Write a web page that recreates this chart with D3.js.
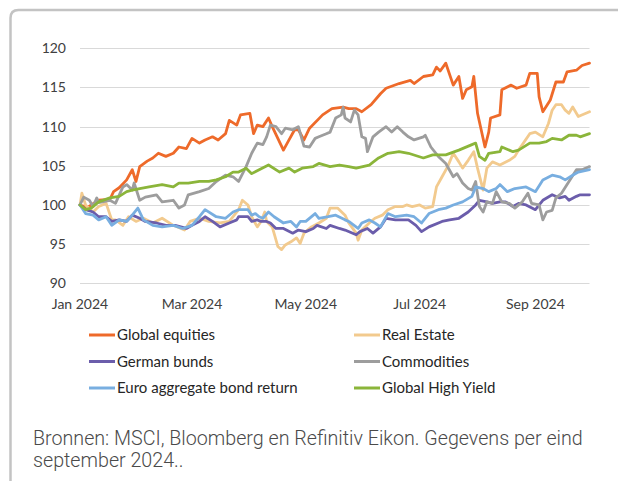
<!DOCTYPE html>
<html>
<head>
<meta charset="utf-8">
<script src="https://cdn.jsdelivr.net/npm/d3@7"></script>
<style>
  body { margin: 0; background: #fff; }
  svg { display: block; font-family: Lato, "Open Sans", sans-serif; }
  .grid line { stroke: #d9d9d9; stroke-width: 1; }
  .tick-label { fill: #404040; font-size: 14px; }
  .legend-label { fill: #262626; font-size: 15px; }
  .source { fill: #4a4a4a; font-family: Roboto, sans-serif; font-weight: 300; font-size: 20px; }
</style>
</head>
<body>
<svg id="chart" width="618" height="481"></svg>
<script>
/* ---------- data ---------- */
const dateRange = ["2024-01-01", "2024-09-30"];
const xTickDates = ["2024-01-01", "2024-03-01", "2024-05-01", "2024-07-01", "2024-09-01"];
const yTicks = [90, 95, 100, 105, 110, 115, 120];

const globalEquities = [
  ["2024-01-01",100.0],["2024-01-05",99.7],["2024-01-11",100.6],["2024-01-17",100.7],["2024-01-19",101.7],
  ["2024-01-22",102.2],["2024-01-26",103.2],["2024-01-29",104.5],["2024-01-31",103.0],["2024-02-02",104.9],
  ["2024-02-06",105.6],["2024-02-09",106.0],["2024-02-12",106.6],["2024-02-16",106.2],["2024-02-20",106.6],
  ["2024-02-23",107.4],["2024-02-27",107.2],["2024-03-01",108.5],["2024-03-05",107.9],["2024-03-08",108.3],
  ["2024-03-12",108.7],["2024-03-15",108.3],["2024-03-19",109.1],["2024-03-21",110.8],["2024-03-25",110.2],
  ["2024-03-27",111.5],["2024-04-01",111.7],["2024-04-03",109.1],["2024-04-05",110.2],["2024-04-08",110.0],
  ["2024-04-11",111.1],["2024-04-13",110.0],["2024-04-19",107.0],["2024-04-22",108.3],["2024-04-25",109.6],
  ["2024-04-27",109.6],["2024-04-30",108.3],["2024-05-03",109.8],["2024-05-10",111.5],["2024-05-15",112.3],
  ["2024-05-21",112.5],["2024-05-24",112.3],["2024-05-28",112.3],["2024-05-31",111.9],["2024-06-05",112.8],
  ["2024-06-10",114.2],["2024-06-13",114.9],["2024-06-20",115.5],["2024-06-26",115.9],["2024-06-28",115.5],
  ["2024-07-03",116.4],["2024-07-08",116.6],["2024-07-10",117.6],["2024-07-12",117.1],["2024-07-15",118.1],
  ["2024-07-19",115.3],["2024-07-22",116.4],["2024-07-24",113.6],["2024-07-26",114.7],["2024-07-29",115.1],
  ["2024-07-30",116.4],["2024-08-01",111.7],["2024-08-05",107.4],["2024-08-07",109.3],["2024-08-08",111.1],
  ["2024-08-13",111.5],["2024-08-14",114.7],["2024-08-19",115.3],["2024-08-22",114.9],["2024-08-27",115.3],
  ["2024-08-29",116.8],["2024-09-02",116.8],["2024-09-03",113.8],["2024-09-05",111.9],["2024-09-09",113.4],
  ["2024-09-12",115.7],["2024-09-16",115.7],["2024-09-18",117.0],["2024-09-23",117.2],["2024-09-26",117.8],
  ["2024-09-30",118.1]
];

const realEstate = [
  ["2024-01-01",100.0],["2024-01-02",101.5],["2024-01-04",100.0],["2024-01-08",99.1],["2024-01-11",99.8],
  ["2024-01-15",100.2],["2024-01-18",98.1],["2024-01-20",98.1],["2024-01-24",97.4],["2024-01-27",98.5],
  ["2024-01-31",97.9],["2024-02-04",98.3],["2024-02-09",97.7],["2024-02-14",98.3],["2024-02-20",97.4],
  ["2024-02-26",96.8],["2024-02-29",97.9],["2024-03-05",98.3],["2024-03-10",97.9],["2024-03-16",97.7],
  ["2024-03-21",97.9],["2024-03-26",99.4],["2024-03-28",100.6],["2024-03-31",100.0],["2024-04-02",98.5],
  ["2024-04-05",97.2],["2024-04-07",97.9],["2024-04-09",99.1],["2024-04-10",97.9],["2024-04-13",97.2],
  ["2024-04-16",94.7],["2024-04-18",94.3],["2024-04-20",94.9],["2024-04-23",95.3],["2024-04-26",95.8],
  ["2024-04-28",95.1],["2024-04-30",96.4],["2024-05-04",97.2],["2024-05-08",97.7],["2024-05-12",98.3],
  ["2024-05-14",99.6],["2024-05-18",99.6],["2024-05-22",98.7],["2024-05-24",97.7],["2024-05-28",96.4],
  ["2024-05-29",95.5],["2024-05-31",96.8],["2024-06-04",97.7],["2024-06-07",98.3],["2024-06-11",98.7],
  ["2024-06-14",99.4],["2024-06-18",99.8],["2024-06-22",99.8],["2024-06-24",100.0],["2024-06-27",99.8],
  ["2024-07-01",100.0],["2024-07-04",99.6],["2024-07-08",99.8],["2024-07-10",102.3],["2024-07-13",103.6],
  ["2024-07-16",104.9],["2024-07-19",106.6],["2024-07-22",105.5],["2024-07-24",104.7],["2024-07-27",105.7],
  ["2024-07-30",106.8],["2024-08-01",104.7],["2024-08-04",101.9],["2024-08-06",104.7],["2024-08-09",105.5],
  ["2024-08-13",105.1],["2024-08-18",105.7],["2024-08-21",106.2],["2024-08-23",107.0],["2024-08-29",109.1],
  ["2024-09-01",109.3],["2024-09-05",108.7],["2024-09-08",110.4],["2024-09-10",112.1],["2024-09-12",112.8],
  ["2024-09-15",112.8],["2024-09-17",112.1],["2024-09-19",111.7],["2024-09-21",112.5],["2024-09-24",111.3],
  ["2024-09-30",111.9]
];

const germanBunds = [
  ["2024-01-01",100.0],["2024-01-04",99.4],["2024-01-08",99.1],["2024-01-11",98.5],["2024-01-15",98.5],
  ["2024-01-18",97.9],["2024-01-22",98.1],["2024-01-26",97.9],["2024-01-29",98.7],["2024-02-02",98.3],
  ["2024-02-05",97.9],["2024-02-11",97.7],["2024-02-16",97.4],["2024-02-21",97.4],["2024-02-27",97.0],
  ["2024-03-01",97.4],["2024-03-05",97.9],["2024-03-08",98.5],["2024-03-12",97.9],["2024-03-16",97.2],
  ["2024-03-21",97.7],["2024-03-25",98.1],["2024-03-26",98.5],["2024-03-31",98.5],["2024-04-02",97.9],
  ["2024-04-05",98.1],["2024-04-07",97.9],["2024-04-10",97.9],["2024-04-12",97.7],["2024-04-15",97.0],
  ["2024-04-19",97.0],["2024-04-24",96.4],["2024-04-27",96.8],["2024-05-01",96.6],["2024-05-05",97.0],
  ["2024-05-07",97.4],["2024-05-12",97.0],["2024-05-14",97.4],["2024-05-19",97.0],["2024-05-22",96.8],
  ["2024-05-28",96.2],["2024-05-30",96.6],["2024-06-03",97.0],["2024-06-06",96.4],["2024-06-10",97.2],
  ["2024-06-13",98.3],["2024-06-18",98.1],["2024-06-25",98.1],["2024-06-29",97.4],["2024-07-02",96.6],
  ["2024-07-06",97.2],["2024-07-13",97.9],["2024-07-17",98.1],["2024-07-22",98.3],["2024-07-27",99.1],
  ["2024-07-31",100.0],["2024-08-02",100.6],["2024-08-06",100.4],["2024-08-09",100.2],["2024-08-13",100.4],
  ["2024-08-16",100.4],["2024-08-20",99.8],["2024-08-23",100.2],["2024-08-27",100.0],["2024-09-01",99.4],
  ["2024-09-05",100.6],["2024-09-10",101.3],["2024-09-14",100.9],["2024-09-17",101.1],["2024-09-19",100.6],
  ["2024-09-23",101.1],["2024-09-25",101.3],["2024-09-30",101.3]
];

const commodities = [
  ["2024-01-01",100.0],["2024-01-03",101.0],["2024-01-06",100.6],["2024-01-08",99.8],["2024-01-10",100.9],
  ["2024-01-11",100.3],["2024-01-17",100.6],["2024-01-20",100.2],["2024-01-24",102.3],["2024-01-26",102.6],
  ["2024-01-29",101.9],["2024-01-30",102.8],["2024-02-02",100.6],["2024-02-05",101.0],["2024-02-11",101.3],
  ["2024-02-14",100.4],["2024-02-20",100.6],["2024-02-23",99.6],["2024-02-26",100.0],["2024-02-28",101.3],
  ["2024-03-05",101.7],["2024-03-10",102.1],["2024-03-14",103.0],["2024-03-19",103.8],["2024-03-23",103.6],
  ["2024-03-26",103.0],["2024-03-30",104.9],["2024-04-02",106.6],["2024-04-05",107.9],["2024-04-08",107.7],
  ["2024-04-10",108.7],["2024-04-12",110.2],["2024-04-15",110.0],["2024-04-18",109.1],["2024-04-20",109.8],
  ["2024-04-24",109.6],["2024-04-27",110.0],["2024-04-30",107.5],["2024-05-03",107.4],["2024-05-06",108.5],
  ["2024-05-08",108.7],["2024-05-12",109.1],["2024-05-14",109.3],["2024-05-17",111.1],["2024-05-20",111.5],
  ["2024-05-21",112.5],["2024-05-22",111.1],["2024-05-25",110.6],["2024-05-27",112.1],["2024-05-29",111.5],
  ["2024-05-31",108.7],["2024-06-02",108.5],["2024-06-03",106.8],["2024-06-06",108.7],["2024-06-09",109.3],
  ["2024-06-13",110.0],["2024-06-16",109.3],["2024-06-19",110.0],["2024-06-22",109.3],["2024-06-25",108.7],
  ["2024-06-28",108.3],["2024-07-03",108.7],["2024-07-04",108.9],["2024-07-07",107.4],["2024-07-11",106.2],
  ["2024-07-15",105.3],["2024-07-19",103.6],["2024-07-21",104.0],["2024-07-24",102.8],["2024-07-27",102.1],
  ["2024-07-29",101.9],["2024-07-31",103.0],["2024-08-02",99.8],["2024-08-04",99.1],["2024-08-06",100.4],
  ["2024-08-09",100.2],["2024-08-11",101.7],["2024-08-14",100.4],["2024-08-18",100.2],["2024-08-21",99.6],
  ["2024-08-25",100.4],["2024-08-28",101.5],["2024-08-30",100.2],["2024-09-03",100.0],["2024-09-05",98.1],
  ["2024-09-07",99.1],["2024-09-10",99.3],["2024-09-12",100.9],["2024-09-15",101.5],["2024-09-19",103.0],
  ["2024-09-23",104.5],["2024-09-26",104.5],["2024-09-30",104.9]
];

const euroAggregate = [
  ["2024-01-01",100.0],["2024-01-04",98.9],["2024-01-08",98.7],["2024-01-11",98.1],["2024-01-15",98.5],
  ["2024-01-18",97.4],["2024-01-22",98.1],["2024-01-26",97.9],["2024-01-29",98.7],["2024-02-01",99.6],
  ["2024-02-04",98.1],["2024-02-09",97.4],["2024-02-14",97.2],["2024-02-20",97.4],["2024-02-25",97.0],
  ["2024-03-01",97.4],["2024-03-05",98.5],["2024-03-08",99.4],["2024-03-14",98.5],["2024-03-19",98.3],
  ["2024-03-23",99.1],["2024-03-26",99.4],["2024-03-31",99.4],["2024-04-02",98.7],["2024-04-04",98.9],
  ["2024-04-06",98.5],["2024-04-08",98.3],["2024-04-11",99.1],["2024-04-14",98.5],["2024-04-19",97.7],
  ["2024-04-23",97.9],["2024-04-26",97.2],["2024-04-28",97.9],["2024-05-01",97.9],["2024-05-06",98.9],
  ["2024-05-08",98.3],["2024-05-13",98.5],["2024-05-17",98.7],["2024-05-22",98.1],["2024-05-24",97.9],
  ["2024-05-29",97.0],["2024-05-31",97.7],["2024-06-04",98.1],["2024-06-07",97.7],["2024-06-10",97.2],
  ["2024-06-14",98.9],["2024-06-18",98.5],["2024-06-24",98.7],["2024-06-28",98.5],["2024-07-02",97.7],
  ["2024-07-06",98.9],["2024-07-11",99.4],["2024-07-15",99.6],["2024-07-19",100.0],["2024-07-24",100.4],
  ["2024-07-29",101.1],["2024-07-31",102.3],["2024-08-04",102.1],["2024-08-07",101.7],["2024-08-11",102.1],
  ["2024-08-13",102.6],["2024-08-17",101.7],["2024-08-21",102.1],["2024-08-27",102.3],["2024-09-01",101.7],
  ["2024-09-05",103.2],["2024-09-10",103.8],["2024-09-14",103.6],["2024-09-17",103.2],["2024-09-21",103.8],
  ["2024-09-24",104.2],["2024-09-30",104.5]
];

const globalHighYield = [
  ["2024-01-01",100.0],["2024-01-04",99.4],["2024-01-07",99.6],["2024-01-11",100.4],["2024-01-17",100.9],
  ["2024-01-22",101.1],["2024-01-26",101.7],["2024-01-29",101.9],["2024-02-02",102.1],["2024-02-07",102.3],
  ["2024-02-14",102.6],["2024-02-20",102.3],["2024-02-23",102.8],["2024-02-28",102.8],["2024-03-05",103.0],
  ["2024-03-10",103.0],["2024-03-14",103.2],["2024-03-19",103.6],["2024-03-23",104.2],["2024-03-26",104.2],
  ["2024-03-30",104.7],["2024-04-02",104.0],["2024-04-06",104.5],["2024-04-11",105.1],["2024-04-17",104.2],
  ["2024-04-22",104.7],["2024-04-25",104.2],["2024-04-29",104.7],["2024-05-05",104.9],["2024-05-08",105.3],
  ["2024-05-14",104.9],["2024-05-19",105.1],["2024-05-24",104.9],["2024-05-28",104.7],["2024-06-04",105.1],
  ["2024-06-09",106.0],["2024-06-14",106.6],["2024-06-20",106.8],["2024-06-25",106.6],["2024-07-03",106.0],
  ["2024-07-08",106.4],["2024-07-15",106.4],["2024-07-22",107.0],["2024-07-29",107.7],["2024-07-31",107.9],
  ["2024-08-02",106.2],["2024-08-05",105.7],["2024-08-07",106.6],["2024-08-13",106.8],["2024-08-14",107.4],
  ["2024-08-20",106.8],["2024-08-23",107.0],["2024-08-29",107.9],["2024-09-03",107.9],["2024-09-07",108.1],
  ["2024-09-10",108.5],["2024-09-15",108.3],["2024-09-19",108.9],["2024-09-23",108.9],["2024-09-25",108.7],
  ["2024-09-30",109.1]
];

const seriesNames = ["Global equities", "Real Estate", "German bunds", "Commodities",
                     "Euro aggregate bond return", "Global High Yield"];
const seriesData = [globalEquities, realEstate, germanBunds, commodities, euroAggregate, globalHighYield];
const seriesColors = ["#ee6a2a", "#f2ca8e", "#6b5dab", "#9d9d9d", "#78aee0", "#8bb53a"];

const sourceLines = ["Bronnen: MSCI, Bloomberg en Refinitiv Eikon. Gegevens per eind",
                     "september 2024.."];

/* ---------- layout ---------- */
const svg = d3.select("#chart");
const parse = d3.timeParse("%Y-%m-%d");
const plot = { left: 80, right: 589.5, top: 48.3, bottom: 283.3 };

const x = d3.scaleTime().domain(dateRange.map(parse)).range([plot.left, plot.right]);
const y = d3.scaleLinear().domain([90, 120]).range([plot.bottom, plot.top]);

// outer frame (rounded top-left corner, runs off the right and bottom edges)
svg.append("path")
  .attr("d", "M10.5,481 V18 Q10.5,10 18.5,10 H620")
  .attr("fill", "none").attr("stroke", "#c3c3c3").attr("stroke-width", 2.5);

/* ---------- grid + axes ---------- */
const grid = svg.append("g").attr("class", "grid");
grid.selectAll("line").data(yTicks).join("line")
  .attr("x1", plot.left).attr("x2", plot.right)
  .attr("y1", d => Math.round(y(d)) + 0.5).attr("y2", d => Math.round(y(d)) + 0.5);

svg.append("g").selectAll("text").data(yTicks).join("text")
  .attr("class", "tick-label")
  .attr("x", 66).attr("y", d => y(d)).attr("dy", "0.35em")
  .attr("text-anchor", "end").text(d => d);

const fmt = d3.timeFormat("%b %Y");
svg.append("g").selectAll("text").data(xTickDates.map(parse)).join("text")
  .attr("class", "tick-label")
  .attr("x", d => x(d)).attr("y", 304).attr("dy", "0.35em")
  .attr("text-anchor", "middle").text(d => fmt(d));

/* ---------- series ---------- */
const line = d3.line().x(d => x(parse(d[0]))).y(d => y(d[1]));

svg.append("g").selectAll("path").data(seriesData).join("path")
  .attr("d", line)
  .attr("fill", "none")
  .attr("stroke", (d, i) => seriesColors[i])
  .attr("stroke-width", 2.8)
  .attr("stroke-linejoin", "round").attr("stroke-linecap", "round");

/* ---------- legend ---------- */
const legCols = [89, 354], legRows = [335, 361.5, 388];
const leg = svg.append("g").selectAll("g").data(seriesNames).join("g")
  .attr("transform", (d, i) => `translate(${legCols[i % 2]},${legRows[Math.floor(i / 2)]})`);
leg.append("line").attr("x1", 0).attr("x2", 26)
  .attr("stroke", (d, i) => seriesColors[i]).attr("stroke-width", 3);
leg.append("text").attr("class", "legend-label")
  .attr("x", 28).attr("dy", "0.35em").text(d => d);

/* ---------- source note ---------- */
const src = svg.append("g");
src.selectAll("text").data(sourceLines).join("text")
  .attr("class", "source")
  .attr("x", 0).attr("y", (d, i) => 445 + i * 22).text(d => d);
// squeeze the light font to the condensed width of the original
const w0 = src.select("text").node().getComputedTextLength();
src.attr("transform", `translate(33,0) scale(${550 / w0},1)`);
</script>
</body>
</html>
